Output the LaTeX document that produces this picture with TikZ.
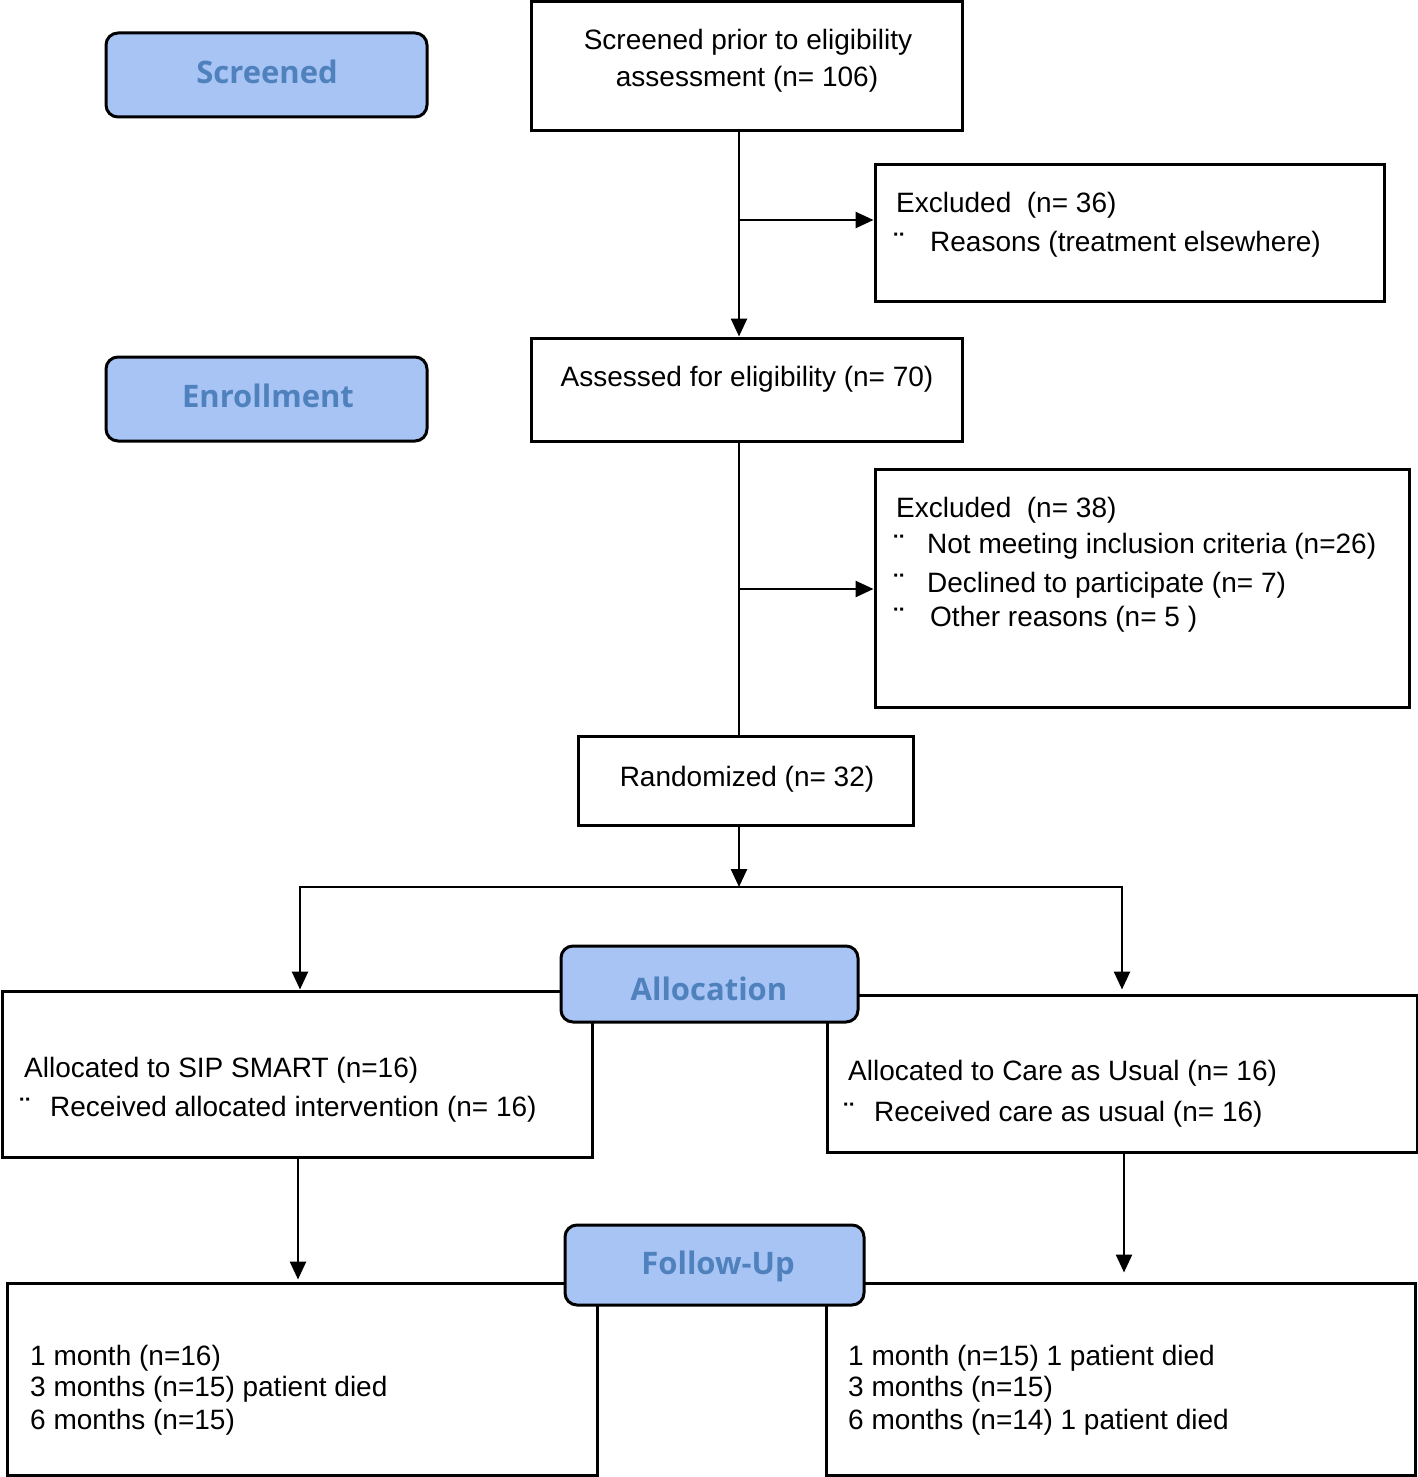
\documentclass[tikz,border=0pt]{standalone}
\usepackage{fontspec}
\setmainfont{Liberation Sans}
\newfontfamily\labfont{Open Sans}
\usetikzlibrary{arrows.meta,calc}
\definecolor{labfill}{RGB}{168,196,245}
\definecolor{labtext}{RGB}{79,129,189}
\tikzset{
  box/.style={draw=black,line width=3pt,fill=white,inner sep=0pt},
  lab/.style={draw=black,line width=3pt,fill=labfill,rounded corners=12pt,inner sep=0pt},
  labtxt/.style={font=\labfont\bfseries\fontsize{31}{36}\selectfont,text=labtext,inner sep=0pt},
  txt/.style={font=\fontsize{28}{33}\selectfont,inner sep=0pt,anchor=base west},
  ctxt/.style={font=\fontsize{28}{33}\selectfont,inner sep=0pt,anchor=base},
  bul/.style={font=\bfseries\fontsize{28}{33}\selectfont,inner sep=0pt,anchor=base west},
  line/.style={line width=2.6pt},
  arr/.style={line width=2.6pt,-{Triangle[length=18pt,width=16pt]}}
}
\begin{document}
\begin{tikzpicture}[x=1pt,y=-1pt]
\useasboundingbox (0,0) rectangle (1418,1477);
% boxes
\node[box,minimum width=431,minimum height=129] (scr) at (746.5,66.5) {};
\node[box,minimum width=509,minimum height=137] (ex1) at (1129.5,232.5) {};
\node[box,minimum width=431,minimum height=103] (ass) at (746.5,389.5) {};
\node[box,minimum width=534,minimum height=238] (ex2) at (1142,588) {};
\node[box,minimum width=335,minimum height=89] (rnd) at (745.5,780.5) {};
\node[box,minimum width=590,minimum height=166] (la) at (297,1074) {};
\node[box,minimum width=590,minimum height=157] (ra) at (1122,1073.5) {};
\node[box,minimum width=590,minimum height=192] (lf) at (302,1379) {};
\node[box,minimum width=589,minimum height=192] (rf) at (1120.5,1379) {};
% coordinates
\coordinate (trunk) at (739,0);
\coordinate (j1) at (739,220);
\coordinate (j2) at (739,589);
\coordinate (split) at (739,887);
\coordinate (sl) at (300,887);
\coordinate (sr) at (1122,887);
\coordinate (fl) at (298,0);
\coordinate (fr) at (1124,0);
% connectors
\draw[arr] (scr.south -| trunk) -- (ass.north -| trunk);
\draw[arr] (j1) -- (j1 -| ex1.west);
\draw[line] (ass.south -| trunk) -- (rnd.north -| trunk);
\draw[arr] (j2) -- (j2 -| ex2.west);
\draw[arr] (rnd.south -| trunk) -- (split);
\draw[line,line cap=rect] (sl) -- (sr);
\draw[arr] (sl) -- (la.north -| sl);
\draw[arr] (sr) -- ($(ra.north -| sr)+(0,-4)$);
\draw[arr] (la.south -| fl) -- ($(lf.north -| fl)+(0,-2)$);
\draw[arr] (ra.south -| fr) -- ($(rf.north -| fr)+(0,-9)$);
% stage labels
\node[lab,minimum width=321,minimum height=84] (lscr) at (266.5,75) {};
\node[labtxt] (tscr) at (267,72) {Screened};
\node[lab,minimum width=321,minimum height=84] (lenr) at (266.5,399) {};
\node[labtxt] (tenr) at (268,396) {Enrollment};
\node[lab,minimum width=297,minimum height=76] (lall) at (709.5,984) {};
\node[labtxt] (tall) at (709,989) {Allocation};
\node[lab,minimum width=299,minimum height=80] (lfol) at (714.5,1265) {};
\node[labtxt] (tfol) at (718,1266) {Follow-Up};
% texts
\node[ctxt] (t1) at (748,50) {Screened prior to eligibility};
\node[ctxt] (t2) at (747,87) {assessment (n= 106)};
\node[txt] (t3) at (896,212) {Excluded\ \ (n= 36)};
\node[bul] (b1) at (894,252) {¨};
\node[txt] (t4) at (930,251) {Reasons (treatment elsewhere)};
\node[ctxt] (t5) at (747,386) {Assessed for eligibility (n= 70)};
\node[txt] (t6) at (896,517) {Excluded\ \ (n= 38)};
\node[bul] (b2) at (894,554) {¨};
\node[txt] (t7) at (927,553) {Not meeting inclusion criteria (n=26)};
\node[bul] (b3) at (894,593) {¨};
\node[txt] (t8) at (927,592) {Declined to participate (n= 7)};
\node[bul] (b4) at (894,627) {¨};
\node[txt] (t9) at (930,626) {Other reasons (n= 5 )};
\node[ctxt] (t10) at (747,786) {Randomized (n= 32)};
\node[txt] (t11) at (24,1077) {Allocated to SIP SMART (n=16)};
\node[bul] (b5) at (20,1117) {¨};
\node[txt] (t12) at (50,1116) {Received allocated intervention (n= 16)};
\node[txt] (t13) at (848,1080) {Allocated to Care as Usual (n= 16)};
\node[bul] (b6) at (844,1122) {¨};
\node[txt] (t14) at (874,1121) {Received care as usual (n= 16)};
\node[txt] (t15) at (30,1365) {1 month (n=16)};
\node[txt] (t16) at (30,1396) {3 months (n=15) patient died};
\node[txt] (t17) at (30,1429) {6 months (n=15)};
\node[txt] (t18) at (848,1365) {1 month (n=15) 1 patient died};
\node[txt] (t19) at (848,1396) {3 months (n=15)};
\node[txt] (t20) at (848,1429) {6 months (n=14) 1 patient died};
\end{tikzpicture}
\end{document}
